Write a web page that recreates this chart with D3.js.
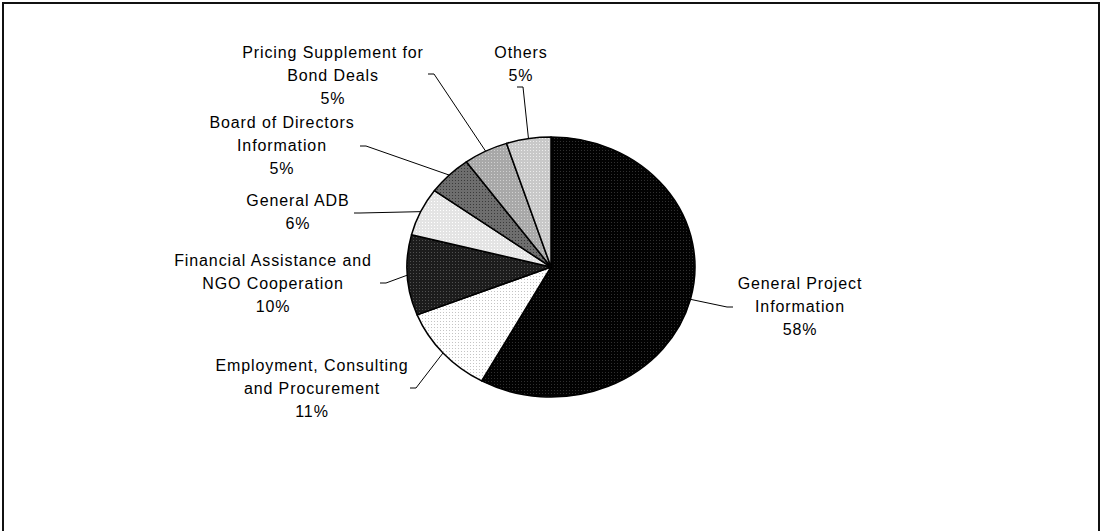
<!DOCTYPE html>
<html>
<head>
<meta charset="utf-8">
<script src="https://cdn.jsdelivr.net/npm/d3@7/dist/d3.min.js"></script>
<style>
	body { margin: 0; background: #fff; }
	svg { display: block; }
	.label { font-family: 'Liberation Sans', Arial, sans-serif; font-size: 16px; fill: #000; letter-spacing: 0.9px; }
	.leader { fill: none; stroke: #000; stroke-width: 1; }
</style>
</head>
<body>
<script>
// data
var categories = [
	'General Project Information',
	'Employment, Consulting and Procurement',
	'Financial Assistance and NGO Cooperation',
	'General ADB',
	'Board of Directors Information',
	'Pricing Supplement for Bond Deals',
	'Others'
];
var values = [58, 11, 10, 6, 5, 5, 5];
var labelLines = [
	['General Project', 'Information', '58%'],
	['Employment, Consulting', 'and Procurement', '11%'],
	['Financial Assistance and', 'NGO Cooperation', '10%'],
	['General ADB', '6%'],
	['Board of Directors', 'Information', '5%'],
	['Pricing Supplement for', 'Bond Deals', '5%'],
	['Others', '5%']
];

// layout (label centre x, first line centre y, leader start x/y, leader elbow direction)
var labelLayout = [
	{ x: 800, y: 283, ax: 733, ay: 307, dir: -1 },
	{ x: 312, y: 365, ax: 410, ay: 388, dir: 1 },
	{ x: 273, y: 260, ax: 380, ay: 283, dir: 1 },
	{ x: 298, y: 200, ax: 354, ay: 213, dir: 1 },
	{ x: 282, y: 122, ax: 360, ay: 146, dir: 1 },
	{ x: 333, y: 52, ax: 428, ay: 74, dir: 1 },
	{ x: 521, y: 52, ax: 517, ay: 87, dir: 1 }
];

// pattern styles: base colour, dot colour, tile size
var fills = [
	{ base: '#020202', dot: '#303030', size: 3 },
	{ base: '#ffffff', dot: '#c4c4c4', size: 3 },
	{ base: '#1c1c1c', dot: '#505050', size: 3 },
	{ base: '#e4e4e4', dot: '#ffffff', size: 3 },
	{ base: '#6e6e6e', dot: '#3a3a3a', size: 3 },
	{ base: '#a8a8a8', dot: '#d0d0d0', size: 3 },
	{ base: '#c8c8c8', dot: '#ececec', size: 3 }
];

var width = 1100, height = 531;
var cx = 551, cy = 267, rx = 144, ry = 130;
var lineHeight = 23;

var svg = d3.select('body').append('svg')
	.attr('width', width)
	.attr('height', height);

// chart border
svg.append('rect')
	.attr('x', 3).attr('y', 3)
	.attr('width', width - 4).attr('height', height + 20)
	.attr('fill', 'none')
	.attr('stroke', '#111')
	.attr('stroke-width', 2);

// dither-like patterns
var defs = svg.append('defs');
fills.forEach(function (f, i) {
	var p = defs.append('pattern')
		.attr('id', 'fill' + i)
		.attr('patternUnits', 'userSpaceOnUse')
		.attr('patternTransform', 'scale(' + (ry / rx) + ',1)')
		.attr('width', f.size).attr('height', f.size);
	p.append('rect').attr('width', f.size).attr('height', f.size).attr('fill', f.base);
	p.append('rect').attr('width', 1).attr('height', 1).attr('fill', f.dot);
});

var pie = d3.pie().sort(null).value(function (d) { return d; });
var arcs = pie(values);
var arc = d3.arc().innerRadius(0).outerRadius(ry);

var pieG = svg.append('g')
	.attr('transform', 'translate(' + cx + ',' + cy + ') scale(' + (rx / ry) + ',1)');

pieG.selectAll('path.slice').data(arcs).enter().append('path')
	.attr('class', 'slice')
	.attr('d', arc)
	.attr('fill', function (d, i) { return 'url(#fill' + i + ')'; })
	.attr('stroke', '#000')
	.attr('stroke-width', 1.5)
	.attr('vector-effect', 'non-scaling-stroke')
	.attr('stroke-linejoin', 'round');

// leader lines from label to the slice edge at its mid angle
var edgePoint = function (d) {
	var a = (d.startAngle + d.endAngle) / 2;
	return [cx + rx * Math.sin(a), cy - ry * Math.cos(a)];
};

svg.selectAll('path.leader').data(arcs).enter().append('path')
	.attr('class', 'leader')
	.attr('d', function (d, i) {
		var l = labelLayout[i];
		var e = edgePoint(d);
		return 'M' + l.ax + ',' + l.ay + ' L' + (l.ax + l.dir * 6) + ',' + l.ay + ' L' + e[0] + ',' + e[1];
	});

// labels
var labelG = svg.selectAll('text.label').data(arcs).enter().append('text')
	.attr('class', 'label')
	.attr('text-anchor', 'middle');

labelG.each(function (d, i) {
	var l = labelLayout[i];
	d3.select(this).selectAll('tspan').data(labelLines[i]).enter().append('tspan')
		.attr('x', l.x)
		.attr('y', function (t, j) { return l.y + j * lineHeight; })
		.attr('dy', '0.36em')
		.text(function (t) { return t; });
});
</script>
</body>
</html>
